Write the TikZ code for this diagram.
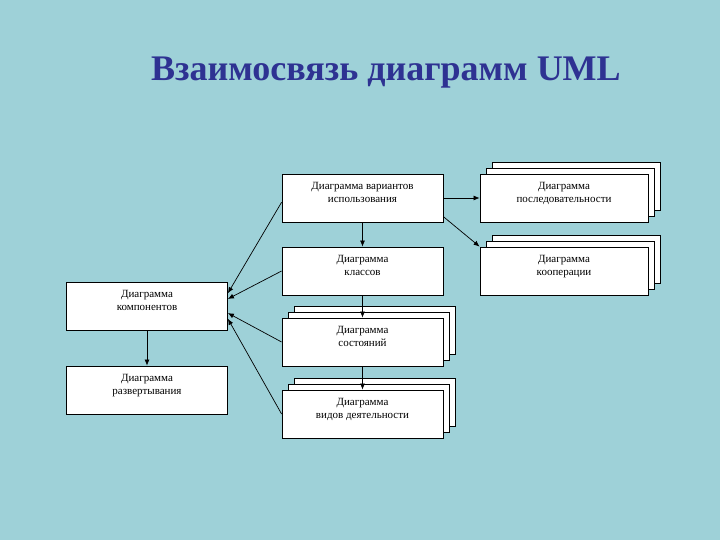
\documentclass[tikz,border=0pt]{standalone}
\usepackage{fontspec}
\setmainfont{Liberation Serif}
\usetikzlibrary{positioning,shadows,arrows.meta}
\definecolor{slidebg}{RGB}{158,209,216}
\definecolor{titleblue}{RGB}{46,50,146}

\begin{document}
\begin{tikzpicture}[
    x=1pt, y=-1pt,
    diag/.style={
        rectangle,
        draw=black,
        fill=white,
        line width=0.8pt,
        minimum width=161pt,
        minimum height=48pt,
        align=center,
        text depth=11pt,
        font=\fontsize{11}{13.5}\selectfont
    },
    stackdiag/.style={
        diag,
        double copy shadow={shadow xshift=6pt, shadow yshift=6pt,
            draw=black, fill=white, line width=0.8pt}
    },
    arrow/.style={
        -{Latex[length=6pt,width=5pt]},
        line width=0.7pt,
        black
    }
]

% background
\fill[slidebg] (0,0) rectangle (720,540);
\useasboundingbox (0,0) rectangle (720,540);

% Title
\node[font=\fontsize{36}{42}\selectfont\bfseries, text=titleblue] (title) at (386,73)
    {Взаимосвязь диаграмм UML};

% Middle column
\node[diag] (usecase) at (362.5,198) {Диаграмма вариантов\\использования};
\node[diag] (classes) at (362.5,271) {Диаграмма\\классов};
\node[stackdiag] (states) at (362.5,342) {Диаграмма\\состояний};
\node[stackdiag] (activity) at (362.5,414) {Диаграмма\\видов деятельности};

% Right column
\node[stackdiag, minimum width=168pt] (sequence) at (564,198) {Диаграмма\\последовательности};
\node[stackdiag, minimum width=168pt] (coop) at (564,271) {Диаграмма\\кооперации};

% Left column
\node[diag] (comp) at (147,306) {Диаграмма\\компонентов};
\node[diag] (deploy) at (147,390) {Диаграмма\\развертывания};

% Arrows
\draw[arrow] (usecase.east) -- (sequence.west);
\draw[arrow] (usecase.-13) -- (coop.north west);
\draw[arrow] (usecase) -- (classes);
\draw[arrow] (classes) -- (states);
\draw[arrow] (states) -- (activity);
\draw[arrow] (comp) -- (deploy);

\draw[arrow] (usecase.183) -- (comp.9);
\draw[arrow] (classes.west) -- (comp.5);
\draw[arrow] (states.west) -- (comp.-5);
\draw[arrow] (activity.west) -- (comp.-9);

\end{tikzpicture}
\end{document}
